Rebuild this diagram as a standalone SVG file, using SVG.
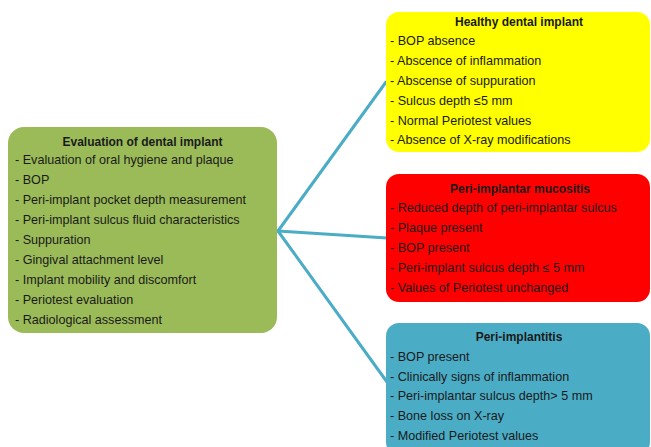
<svg xmlns="http://www.w3.org/2000/svg" width="651" height="447" viewBox="0 0 651 447">
<style>
.t{font-family:"Liberation Sans",Arial,sans-serif;font-size:12.6px;fill:#1a1a1a}
.h{font-family:"Liberation Sans",Arial,sans-serif;font-size:12px;font-weight:bold;fill:#1a1a1a;text-anchor:middle}
.c{stroke:#4BACC6;stroke-width:3;fill:none;stroke-linecap:round}
</style>
<rect width="651" height="447" fill="#ffffff"/>
<g id="connectors">
<line class="c" x1="278" y1="231" x2="386" y2="82"/>
<line class="c" x1="278" y1="231" x2="387" y2="238"/>
<line class="c" x1="278" y1="231" x2="387" y2="382"/>
</g>
<g id="evaluation">
<rect x="8" y="127" width="269" height="206" rx="16" fill="#9BBB59"/>
<text class="h" x="142.5" y="146">Evaluation of dental implant</text>
<text class="t" x="15" y="164">- Evaluation of oral hygiene and plaque</text>
<text class="t" x="15" y="184">- BOP</text>
<text class="t" x="15" y="204">- Peri-implant pocket depth measurement</text>
<text class="t" x="15" y="224">- Peri-implant sulcus fluid characteristics</text>
<text class="t" x="15" y="244">- Suppuration</text>
<text class="t" x="15" y="264">- Gingival attachment level</text>
<text class="t" x="15" y="284">- Implant mobility and discomfort</text>
<text class="t" x="15" y="304">- Periotest evaluation</text>
<text class="t" x="15" y="324">- Radiological assessment</text>
</g>
<g id="healthy">
<rect x="386" y="12" width="264" height="140" rx="13" fill="#FFFF00"/>
<text class="h" x="519" y="26">Healthy dental implant</text>
<text class="t" x="390" y="45">- BOP absence</text>
<text class="t" x="390" y="65">- Abscence of inflammation</text>
<text class="t" x="390" y="85">- Abscense of suppuration</text>
<text class="t" x="390" y="105">- Sulcus depth ≤5 mm</text>
<text class="t" x="390" y="125">- Normal Periotest values</text>
<text class="t" x="390" y="144">- Absence of X-ray modifications</text>
</g>
<g id="mucositis">
<rect x="386" y="174" width="264" height="128" rx="13" fill="#FF0000"/>
<text class="h" x="520" y="193">Peri-implantar mucositis</text>
<text class="t" x="390" y="212">- Reduced  depth of peri-implantar sulcus</text>
<text class="t" x="390" y="232">- Plaque present</text>
<text class="t" x="390" y="252">- BOP present</text>
<text class="t" x="390" y="272">- Peri-implant sulcus depth ≤ 5 mm</text>
<text class="t" x="390" y="292">- Values of Periotest unchanged</text>
</g>
<g id="periimplantitis">
<rect x="386" y="323" width="264" height="132" rx="13" fill="#4BACC6"/>
<text class="h" x="519" y="341">Peri-implantitis</text>
<text class="t" x="390" y="361">- BOP present</text>
<text class="t" x="390" y="381">- Clinically  signs of inflammation</text>
<text class="t" x="390" y="400">- Peri-implantar  sulcus depth&gt; 5 mm</text>
<text class="t" x="390" y="420">- Bone loss on X-ray</text>
<text class="t" x="390" y="440">- Modified Periotest values</text>
</g>
</svg>
